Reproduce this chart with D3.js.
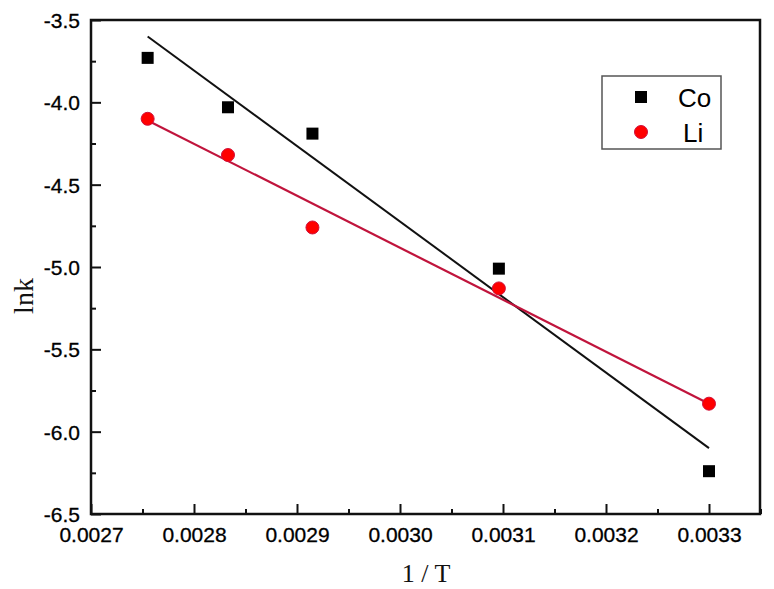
<!DOCTYPE html>
<html lang="en">

<head>
    <meta charset="UTF-8">
    <title>lnk vs 1/T</title>
    <script src="https://d3js.org/d3.v7.min.js"></script>
    <style>
        body {
            margin: 0;
            background: #fff;
        }

        .tick text {
            font-family: "Liberation Sans", Arial, sans-serif;
            font-size: 21px;
            fill: #000;
            stroke: #000;
            stroke-width: 0.3px;
        }

        .axis-title {
            font-family: "Liberation Serif", "Times New Roman", serif;
            font-size: 26px;
            fill: #111;
        }
    </style>
</head>

<body>
    <svg id="chart"></svg>

    <script>
        const width = 774;
        const height = 589;

        // data (x = 1/T, y = lnk)
        const invT = [0.002755, 0.002833, 0.002915, 0.003096, 0.003300];
        const coValues = [-3.73, -4.03, -4.19, -5.01, -6.24];
        const liValues = [-4.10, -4.32, -4.76, -5.13, -5.83];

        // fitted lines, end points
        const coFit = [[0.002755, -3.60], [0.003300, -6.10]];
        const liFit = [[0.002755, -4.11], [0.003300, -5.83]];

        const xTicks = [0.0027, 0.0028, 0.0029, 0.0030, 0.0031, 0.0032, 0.0033];
        const yTicks = [-3.5, -4.0, -4.5, -5.0, -5.5, -6.0, -6.5];

        const margin = { top: 20, right: 14, bottom: 75, left: 91 };
        const innerW = width - margin.left - margin.right;
        const innerH = height - margin.top - margin.bottom;

        const svg = d3.select('#chart')
            .attr('width', width)
            .attr('height', height);

        const g = svg.append('g')
            .attr('transform', `translate(${margin.left},${margin.top})`);

        const x = d3.scaleLinear()
            .domain([0.0027, 0.0027 + innerW / 103 * 0.0001])
            .range([0, innerW]);

        const y = d3.scaleLinear()
            .domain([-6.5, -3.5])
            .range([innerH, 0]);

        // plain hyphen for the minus sign, like the original
        const fmt = d3.formatLocale({ decimal: '.', thousands: ',', grouping: [3], currency: ['', ''], minus: '-' });

        // minor ticks (inside)
        const xMinor = d3.range(0.00275, 0.00335, 0.0001);
        const yMinor = d3.range(-6.25, -3.5, 0.5);

        g.append('g')
            .attr('transform', `translate(0,${innerH})`)
            .call(d3.axisBottom(x).tickValues(xMinor).tickSize(-5).tickFormat(''))
            .call(a => a.select('.domain').remove())
            .selectAll('line').attr('stroke', '#111').attr('stroke-width', 2);

        g.append('g')
            .call(d3.axisLeft(y).tickValues(yMinor).tickSize(-5).tickFormat(''))
            .call(a => a.select('.domain').remove())
            .selectAll('line').attr('stroke', '#111').attr('stroke-width', 2);

        const xAxis = g.append('g')
            .attr('transform', `translate(0,${innerH})`)
            .call(d3.axisBottom(x).tickValues(xTicks).tickSize(-10).tickPadding(13)
                .tickFormat(fmt.format('.4f')));
        xAxis.select('.domain').remove();
        xAxis.selectAll('line').attr('stroke', '#111').attr('stroke-width', 2);

        const yAxis = g.append('g')
            .call(d3.axisLeft(y).tickValues(yTicks).tickSize(-10).tickPadding(11)
                .tickFormat(fmt.format('.1f')));
        yAxis.select('.domain').remove();
        yAxis.selectAll('line').attr('stroke', '#111').attr('stroke-width', 2);
        yAxis.selectAll('text').attr('dy', '0.36em');

        // frame
        g.append('rect')
            .attr('width', innerW)
            .attr('height', innerH)
            .attr('fill', 'none')
            .attr('stroke', '#111')
            .attr('stroke-width', 2.5);

        const line = d3.line()
            .x(d => x(d[0]))
            .y(d => y(d[1]));

        g.append('path')
            .datum(coFit)
            .attr('d', line)
            .attr('fill', 'none')
            .attr('stroke', '#111')
            .attr('stroke-width', 2);

        g.append('path')
            .datum(liFit)
            .attr('d', line)
            .attr('fill', 'none')
            .attr('stroke', '#c0143c')
            .attr('stroke-width', 2.2);

        // Co squares
        g.selectAll('.co')
            .data(invT.map((v, i) => [v, coValues[i]]))
            .join('rect')
            .attr('class', 'co')
            .attr('x', d => x(d[0]) - 6)
            .attr('y', d => y(d[1]) - 6)
            .attr('width', 12)
            .attr('height', 12)
            .attr('fill', '#000');

        // Li circles
        g.selectAll('.li')
            .data(invT.map((v, i) => [v, liValues[i]]))
            .join('circle')
            .attr('class', 'li')
            .attr('cx', d => x(d[0]))
            .attr('cy', d => y(d[1]))
            .attr('r', 6.5)
            .attr('fill', '#ff0000')
            .attr('stroke', '#d0103a')
            .attr('stroke-width', 1);

        // legend
        const legend = svg.append('g').attr('transform', 'translate(602,76)');
        legend.append('rect')
            .attr('width', 119)
            .attr('height', 73)
            .attr('fill', '#fff')
            .attr('stroke', '#555')
            .attr('stroke-width', 1.5);
        legend.append('rect')
            .attr('x', 33).attr('y', 15)
            .attr('width', 12).attr('height', 12)
            .attr('fill', '#000');
        legend.append('circle')
            .attr('cx', 39).attr('cy', 56)
            .attr('r', 6.5)
            .attr('fill', '#ff0000')
            .attr('stroke', '#d0103a');
        legend.append('text')
            .attr('x', 76).attr('y', 31)
            .attr('font-family', '"Liberation Sans", Arial, sans-serif')
            .attr('font-size', 26)
            .text('Co');
        legend.append('text')
            .attr('x', 81).attr('y', 66)
            .attr('font-family', '"Liberation Sans", Arial, sans-serif')
            .attr('font-size', 26)
            .text('Li');

        // axis titles
        svg.append('text')
            .attr('class', 'axis-title')
            .attr('x', 426)
            .attr('y', 582)
            .attr('text-anchor', 'middle')
            .text('1 / T');

        svg.append('text')
            .attr('class', 'axis-title')
            .attr('transform', 'translate(33,296) rotate(-90)')
            .attr('text-anchor', 'middle')
            .style('font-size', '28px')
            .text('lnk');
    </script>
</body>

</html>
